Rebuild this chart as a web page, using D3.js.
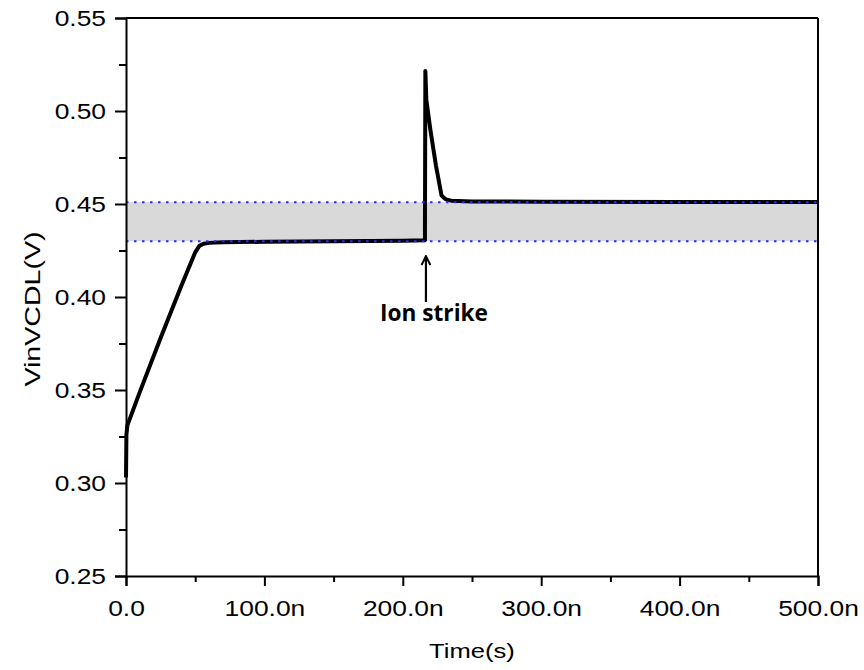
<!DOCTYPE html>
<html><head><meta charset="utf-8">
<script src="https://cdn.jsdelivr.net/npm/d3@7"></script>
<style>body{margin:0;background:#fff}svg{display:block}</style>
</head><body>
<svg id="c" width="864" height="670"></svg>
<script>
// data (time in ns, voltage in V)
const timeNs = [0, 0.3, 1, 10, 25, 40, 50, 53, 56, 60, 70, 100, 150, 200, 215.5, 216, 216.3, 217, 220, 224, 228, 231, 235, 250, 300, 400, 500];
const vin    = [0.303, 0.326, 0.331, 0.349, 0.378, 0.406, 0.424, 0.4275, 0.4286, 0.4291, 0.4294, 0.4297, 0.4300, 0.4303, 0.4305, 0.4305, 0.5215, 0.506, 0.4895, 0.4705, 0.4545, 0.4525, 0.4518, 0.4514, 0.4512, 0.4511, 0.4511];
const bandLow = 0.43, bandHigh = 0.451;
const xTicks = [0, 100, 200, 300, 400, 500];
const xTickLabels = ["0.0", "100.0n", "200.0n", "300.0n", "400.0n", "500.0n"];
const xMinor = [50, 150, 250, 350, 450];
const yTicks = [0.25, 0.30, 0.35, 0.40, 0.45, 0.50, 0.55];
const yMinor = [0.275, 0.325, 0.375, 0.425, 0.475, 0.525];
const strikeT = 216, strikeV = 0.43;

const svg = d3.select("#c");
const L = 126, R = 818, T = 18, B = 576;
const x = d3.scaleLinear().domain([0, 500]).range([L, R]);
const y = d3.scaleLinear().domain([0.25, 0.55]).range([B, T]);
const font = "'Liberation Sans', Arial, sans-serif";
const SX = 1.2;

// band
svg.append("rect").attr("x", x(0)).attr("y", y(bandHigh)).attr("width", x(500) - x(0))
  .attr("height", y(bandLow) - y(bandHigh)).attr("fill", "#d9d9d9");

// data line
const pts = timeNs.map((t, i) => [t, vin[i]]);
svg.append("path").datum(pts)
  .attr("d", d3.line().x(d => x(d[0])).y(d => y(d[1])))
  .attr("fill", "none").attr("stroke", "#000").attr("stroke-width", 4).attr("stroke-linejoin", "round");

// dotted band edges
[bandLow, bandHigh].forEach(v => {
  svg.append("line").attr("x1", x(0)).attr("x2", x(500)).attr("y1", y(v)).attr("y2", y(v))
    .attr("stroke", "#2a2aff").attr("stroke-width", 2).attr("stroke-dasharray", "2.5 5.5");
});

// frame
svg.append("line").attr("x1", L).attr("x2", R).attr("y1", T).attr("y2", T).attr("stroke", "#000").attr("stroke-width", 2);
svg.append("line").attr("x1", R).attr("x2", R).attr("y1", T).attr("y2", B).attr("stroke", "#000").attr("stroke-width", 2);

// axes
const xAxis = svg.append("g").attr("transform", `translate(0,${B})`)
  .call(d3.axisBottom(x).tickValues(xTicks).tickSize(10).tickPadding(14).tickFormat((d, i) => xTickLabels[i]));
const xAxisMinor = svg.append("g").attr("transform", `translate(0,${B})`)
  .call(d3.axisBottom(x).tickValues(xMinor).tickSize(6).tickFormat(""));
const yAxis = svg.append("g").attr("transform", `translate(${L},0)`)
  .call(d3.axisLeft(y).tickValues(yTicks).tickSize(11).tickPadding(9).tickFormat(d3.format(".2f")));
const yAxisMinor = svg.append("g").attr("transform", `translate(${L},0)`)
  .call(d3.axisLeft(y).tickValues(yMinor).tickSize(7).tickFormat(""));
[xAxis, xAxisMinor, yAxis, yAxisMinor].forEach(g => {
  g.select(".domain").attr("stroke", "#000").attr("stroke-width", 2);
  g.selectAll(".tick line").attr("stroke", "#000").attr("stroke-width", 2);
  g.selectAll("text").attr("font-family", font).attr("font-size", 22).attr("fill", "#000");
});
xAxisMinor.select(".domain").remove();
yAxisMinor.select(".domain").remove();
xAxis.selectAll(".tick text").attr("transform", `scale(${SX},1)`);
yAxis.selectAll(".tick text").attr("x", -20 / SX).attr("transform", `scale(${SX},1)`);

// axis titles
svg.append("text").attr("transform", `translate(472,658) scale(1.22,1)`).attr("text-anchor", "middle")
  .attr("font-family", font).attr("font-size", 21).attr("fill", "#000").text("Time(s)");
svg.append("text").attr("transform", `translate(40,309) rotate(-90) scale(1.3,1)`).attr("text-anchor", "middle")
  .attr("font-family", font).attr("font-size", 22).attr("fill", "#000").text("VinVCDL(V)");

// annotation
svg.append("defs").append("marker").attr("id", "ah").attr("viewBox", "0 0 10 10").attr("refX", 9).attr("refY", 5)
  .attr("markerWidth", 5).attr("markerHeight", 5).attr("orient", "auto")
  .append("path").attr("d", "M1,1 L9,5 L1,9").attr("fill", "none").attr("stroke", "#000").attr("stroke-width", 1.8);
svg.append("line").attr("x1", x(strikeT) + 1).attr("x2", x(strikeT) + 1).attr("y1", 302).attr("y2", y(strikeV) + 15)
  .attr("stroke", "#000").attr("stroke-width", 2.2).attr("marker-end", "url(#ah)");
const it = svg.append("text").attr("text-anchor", "middle")
  .attr("font-family", "'Open Sans', sans-serif").attr("font-weight", "bold").attr("font-size", 24)
  .attr("fill", "#000").text("Ion strike");
const iw = it.node().getComputedTextLength();
it.attr("transform", `translate(434,321) scale(${108 / iw},1)`);
</script>
</body></html>
